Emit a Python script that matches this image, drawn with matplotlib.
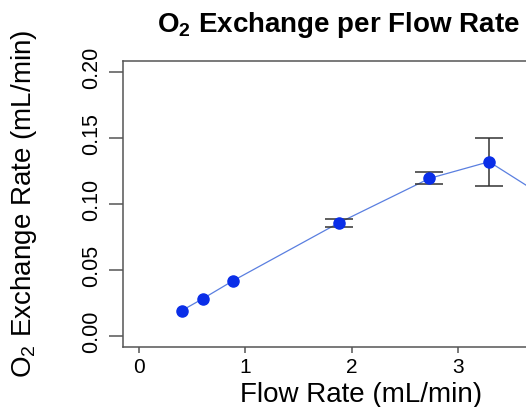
import numpy as np
import matplotlib
matplotlib.use("Agg")
import matplotlib.pyplot as plt
import matplotlib.transforms as mtransforms

plt.rcParams['font.family'] = ['Liberation Sans', 'DejaVu Sans']
plt.rcParams['mathtext.fontset'] = 'custom'
plt.rcParams['mathtext.rm'] = 'Liberation Sans'
plt.rcParams['mathtext.bf'] = 'Liberation Sans:bold'

# data
flow_rate = [0.40, 0.60, 0.88, 1.88, 2.73, 3.29, 3.75]
o2_exchange = [0.0192, 0.0283, 0.0417, 0.0858, 0.1194, 0.1320, 0.1085]
o2_error = [np.nan, np.nan, np.nan, 0.0030, 0.0045, 0.0180, np.nan]
x_ticks = [0, 1, 2, 3]
y_ticks = [0.00, 0.05, 0.10, 0.15, 0.20]
y_tick_labels = ["0.00", "0.05", "0.10", "0.15", "0.20"]

W, H = 526, 407
fig = plt.figure(figsize=(W / 100, H / 100), dpi=100)
# axes box in pixels: left 122.5, right 554 (beyond image), top 61, bottom 347
ax_l, ax_r, ax_t, ax_b = 122.5, 554.0, 61.0, 347.0
ax = fig.add_axes([ax_l / W, (H - ax_b) / H, (ax_r - ax_l) / W, (ax_b - ax_t) / H])

ax.plot(flow_rate, o2_exchange, color='#5a7fe0', lw=0.9, zorder=2)
ax.errorbar(flow_rate, o2_exchange, yerr=o2_error, fmt='none',
            ecolor='#333333', elinewidth=1.1, capsize=10, capthick=1.1, zorder=3)
ax.plot(flow_rate, o2_exchange, 'o', color='#0a2ee8', ms=8, mec='#0a2ee8', zorder=4)

ax.set_xlim(-0.155, 3.9)
ax.set_ylim(-0.0083, 0.2083)

for s in ax.spines.values():
    s.set_color('#555555')
    s.set_linewidth(1.1)

ax.set_xticks(x_ticks, [str(t) for t in x_ticks], fontsize=15)
ax.set_yticks(y_ticks, y_tick_labels, fontsize=15.5, rotation=90, va='center')
ax.tick_params(axis='x', length=4.3, width=1.1, color='#555555', pad=3.5)
ax.tick_params(axis='y', length=10, width=1.1, color='#555555', pad=5)
shift = mtransforms.ScaledTranslation(0, 3 / 72, fig.dpi_scale_trans)
for lab in ax.get_yticklabels():
    lab.set_transform(lab.get_transform() + shift)

def axc(px, py):
    return (px - ax_l) / (ax_r - ax_l), (ax_b - py) / (ax_b - ax_t)

tx, ty = axc(338.5, 31.7)
ax.set_title(r"$\mathbf{O_2}$ Exchange per Flow Rate", fontsize=20,
             fontweight='bold', x=tx, y=ty, pad=0)

ax.set_xlabel("Flow Rate (mL/min)", fontsize=20, va='baseline')
xl = axc(361, 402.5)
ax.xaxis.set_label_coords(*xl)

ax.set_ylabel(r"$\mathrm{O_2}$ Exchange Rate (mL/min)", fontsize=20,
              va='center', ha='center')
yl = axc(24, 204)
ax.yaxis.set_label_coords(*yl)

fig.savefig("out.png", dpi=100)
